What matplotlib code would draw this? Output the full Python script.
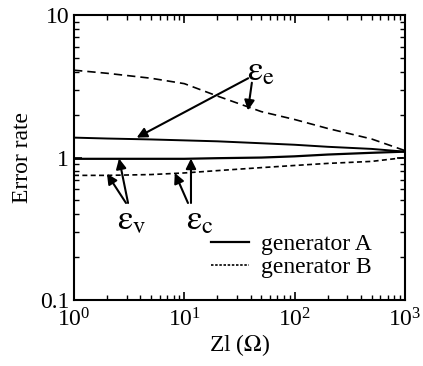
import matplotlib
matplotlib.use('Agg')
import matplotlib.pyplot as plt
from matplotlib.ticker import FuncFormatter, NullFormatter
from matplotlib.lines import Line2D

plt.rcParams['font.family'] = ['Liberation Serif', 'DejaVu Serif']
plt.rcParams['mathtext.fontset'] = 'stix'

# load impedance Zl (ohm)
zl = [1, 2, 5, 10, 20, 50, 100, 200, 500, 1000]

# error rates
ee_a = [1.38, 1.36, 1.34, 1.32, 1.30, 1.26, 1.23, 1.19, 1.15, 1.10]
ee_b = [4.1, 3.9, 3.6, 3.3, 2.7, 2.1, 1.85, 1.6, 1.35, 1.12]
ev_a = [0.98, 0.98, 0.98, 0.98, 0.99, 1.0, 1.02, 1.05, 1.08, 1.10]
ev_b = [0.75, 0.75, 0.76, 0.78, 0.81, 0.85, 0.88, 0.91, 0.94, 1.0]

legend_labels = ['generator A', 'generator B']

fig = plt.figure(figsize=(4.23, 3.66), dpi=100)
ax = fig.add_axes([0.175, 0.18, 0.782, 0.779])

ax.plot(zl, ee_a, color='k', lw=1.4)
ax.plot(zl, ev_a, color='k', lw=1.6)
ax.plot(zl, ee_b, color='k', lw=1.2, dashes=(5, 3))
ax.plot(zl, ev_b, color='k', lw=1.2, dashes=(3, 2))

ax.set_xscale('log')
ax.set_yscale('log')
ax.set_xlim(1, 1000)
ax.set_ylim(0.1, 10)
ax.yaxis.set_major_formatter(FuncFormatter(lambda v, p: f'{v:g}'))
ax.xaxis.set_minor_formatter(NullFormatter())
ax.yaxis.set_minor_formatter(NullFormatter())

ax.tick_params(which='both', direction='in', top=True, right=True, labelsize=17)
ax.tick_params(which='major', length=6, width=1.2)
ax.tick_params(which='minor', length=3.5, width=1)
ax.tick_params(axis='x', pad=6)
for s in ax.spines.values():
    s.set_linewidth(1.5)

ax.set_xlabel(r'Zl ($\Omega$)', fontsize=17, labelpad=0)
ax.set_ylabel('Error rate', fontsize=17, labelpad=5)

# arrows and symbol labels
arrow = dict(arrowstyle='-|>', lw=1.5, color='k', mutation_scale=15,
             shrinkA=0, shrinkB=0)
ax.text(50, 4.0, r'$\mathrm{\varepsilon}_{\rm e}$', fontsize=25, ha='center', va='center')
ax.annotate('', xy=(3.7, 1.38), xytext=(38, 3.6), arrowprops=arrow)
ax.annotate('', xy=(37.8, 2.14), xytext=(41, 3.35), arrowprops=arrow)

ax.text(3.36, 0.36, r'$\mathrm{\varepsilon}_{\rm v}$', fontsize=25, ha='center', va='center')
ax.annotate('', xy=(2.56, 0.985), xytext=(3.09, 0.48), arrowprops=arrow)
ax.annotate('', xy=(1.99, 0.77), xytext=(2.96, 0.48), arrowprops=arrow)

ax.text(13.9, 0.36, r'$\mathrm{\varepsilon}_{\rm c}$', fontsize=25, ha='center', va='center')
ax.annotate('', xy=(11.5, 0.985), xytext=(11.5, 0.48), arrowprops=arrow)
ax.annotate('', xy=(8.2, 0.78), xytext=(10.8, 0.48), arrowprops=arrow)

handles = [Line2D([], [], color='k', lw=1.6),
           Line2D([], [], color='k', lw=1.2, dashes=(1.5, 1))]
ax.legend(handles, legend_labels, loc='lower right', frameon=False, fontsize=17,
          handlelength=1.6, handletextpad=0.5, labelspacing=0.05,
          borderaxespad=0.3, bbox_to_anchor=(0.95, 0.02))

fig.savefig('out.png', dpi=100)
